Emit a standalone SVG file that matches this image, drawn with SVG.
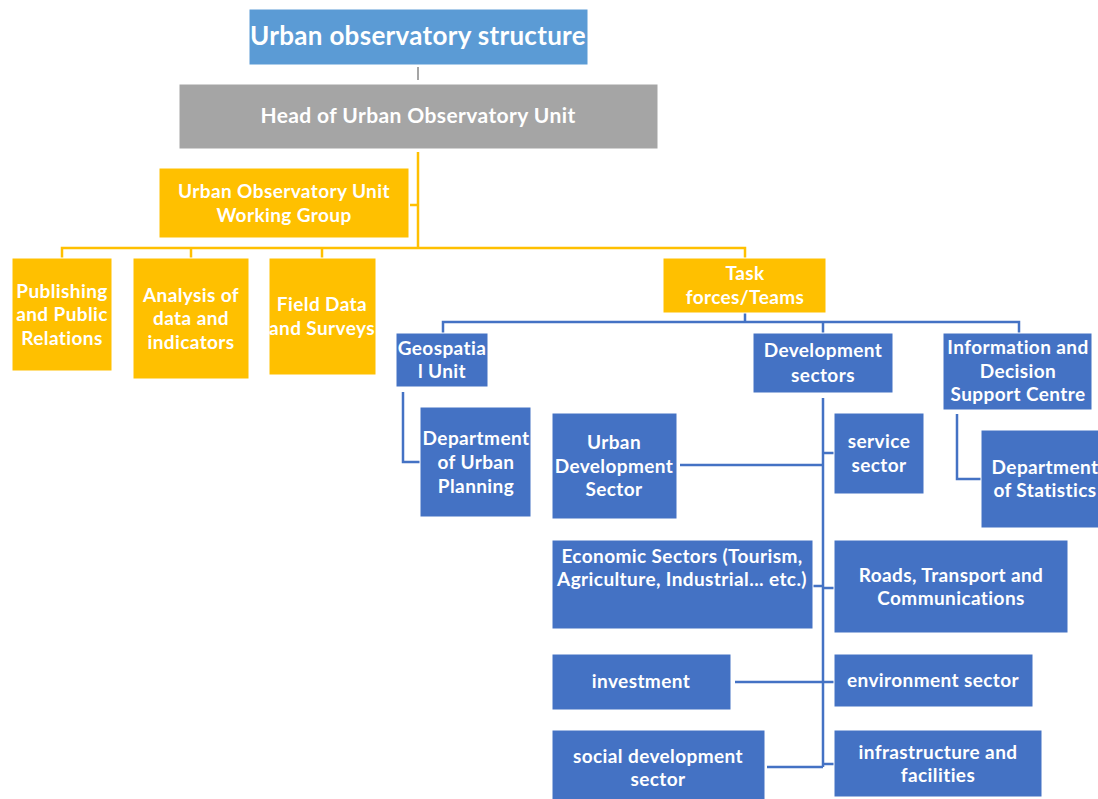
<svg xmlns="http://www.w3.org/2000/svg" width="1098" height="799" viewBox="0 0 1098 799">
<style>
text{font-family:Lato,"Open Sans","Liberation Sans",sans-serif;font-weight:bold;fill:#fff;text-anchor:middle;font-size:19px;letter-spacing:0.4px}
.y{fill:#FFC000;stroke:#fff;stroke-width:1}
.b{fill:#4472C4;stroke:#fff;stroke-width:1}
.cy{stroke:#FFC000;stroke-width:2.5;fill:none}
.cb{stroke:#4472C4;stroke-width:2.5;fill:none}
</style>
<rect width="1098" height="799" fill="#fff"/>
<g id="connectors">
<line x1="418" y1="67" x2="418" y2="80" stroke="#A5A5A5" stroke-width="2"/>
<path class="cy" d="M418 152V248M410 205H418M62 258V248H745V258M191 248V258M322 248V258"/>
<path class="cb" d="M745 313V322M443 333V322H1019V333M823 322V333"/>
<path class="cb" d="M403 392V462H420M957 414V479H981"/>
<path class="cb" d="M823 398V767M680 465H823M823 453H834M813 586H823M823 588H834M735 682H834M767 767H823M823 764H834"/>
</g>
<g id="title"><rect x="249" y="9" width="339" height="56" fill="#5B9BD5" stroke="#fff"/><text x="418" y="45" style="font-size:26px;letter-spacing:0.3px">Urban observatory structure</text></g>
<g id="head"><rect x="179" y="84" width="479" height="65" fill="#A5A5A5" stroke="#fff"/><text x="418" y="123" style="font-size:21px">Head of Urban Observatory Unit</text></g>
<g id="wg"><rect class="y" x="159" y="168" width="250" height="70"/><text x="284" y="198">Urban Observatory Unit</text><text x="284" y="222">Working Group</text></g>
<g id="publishing"><rect class="y" x="12" y="258" width="100" height="113"/><text x="62" y="298">Publishing</text><text x="62" y="321">and Public</text><text x="62" y="345">Relations</text></g>
<g id="analysis"><rect class="y" x="133" y="258" width="116" height="121"/><text x="191" y="302">Analysis of</text><text x="191" y="325">data and</text><text x="191" y="349">indicators</text></g>
<g id="field"><rect class="y" x="269" y="258" width="107" height="117"/><text x="322" y="311">Field Data</text><text x="322" y="335">and Surveys</text></g>
<g id="task"><rect class="y" x="663" y="258" width="163" height="55"/><text x="745" y="280">Task</text><text x="745" y="304">forces/Teams</text></g>
<g id="geo"><rect class="b" x="396" y="333" width="92" height="54"/><text x="442" y="355">Geospatia</text><text x="442" y="378">l Unit</text></g>
<g id="dev"><rect class="b" x="753" y="333" width="140" height="60"/><text x="823" y="357">Development</text><text x="823" y="382">sectors</text></g>
<g id="info"><rect class="b" x="943" y="333" width="149" height="77"/><text x="1018" y="354">Information and</text><text x="1018" y="378">Decision</text><text x="1018" y="401">Support Centre</text></g>
<g id="urbanplanning"><rect class="b" x="420" y="407" width="111" height="110"/><text x="476" y="445">Department</text><text x="476" y="469">of Urban</text><text x="476" y="493">Planning</text></g>
<g id="statistics"><rect class="b" x="981" y="430" width="130" height="98"/><text x="1045" y="474">Department</text><text x="1045" y="497">of Statistics</text></g>
<g id="urbandev"><rect class="b" x="552" y="413" width="125" height="106"/><text x="614" y="449">Urban</text><text x="614" y="473">Development</text><text x="614" y="496">Sector</text></g>
<g id="service"><rect class="b" x="834" y="413" width="90" height="81"/><text x="879" y="448">service</text><text x="879" y="472">sector</text></g>
<g id="economic"><rect class="b" x="552" y="540" width="261" height="89"/><text x="682" y="563">Economic Sectors (Tourism,</text><text x="682" y="586">Agriculture, Industrial... etc.)</text></g>
<g id="roads"><rect class="b" x="834" y="540" width="234" height="93"/><text x="951" y="582">Roads, Transport and</text><text x="951" y="605">Communications</text></g>
<g id="investment"><rect class="b" x="552" y="654" width="179" height="56"/><text x="641" y="688">investment</text></g>
<g id="environment"><rect class="b" x="834" y="654" width="199" height="53"/><text x="933" y="687">environment sector</text></g>
<g id="social"><rect class="b" x="552" y="730" width="213" height="72"/><text x="658" y="763">social development</text><text x="658" y="786">sector</text></g>
<g id="infrastructure"><rect class="b" x="834" y="730" width="208" height="67"/><text x="938" y="759">infrastructure and</text><text x="938" y="782">facilities</text></g>
</svg>
